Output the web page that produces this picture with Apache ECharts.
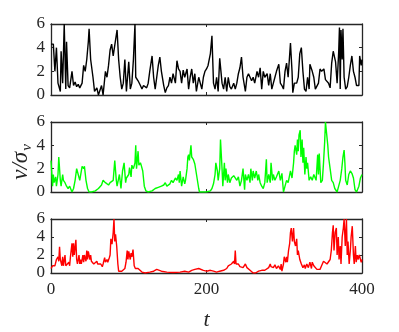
<!DOCTYPE html>
<html>
<head>
<meta charset="utf-8">
<script src="https://cdn.jsdelivr.net/npm/echarts@6/dist/echarts.min.js"></script>
<style>
  html, body { margin: 0; padding: 0; background: #fff; }
  #main { width: 399px; height: 332px; }
</style>
</head>
<body>
<div id="main"></div>
<script>
// [t, v/sigma_v]
var black = [[0,4.3],[3,4.3],[5,2.0],[7,4.0],[9,1.0],[12,0.3],[13,3.7],[15,1.0],[17,6.0],[19,0.5],[20,4.5],[22,0.8],[24,0.6],[27,2.0],[29,0.8],[31,1.1],[33,0.7],[35,0.9],[37,0.6],[40,1.0],[42,2.5],[44,2.0],[46,3.0],[48,4.5],[49,5.6],[51,3.0],[54,1.5],[56,0.3],[59,0.6],[61,0.0],[63,0.1],[65,0.8],[67,0.0],[70,2.0],[72,1.5],[74,2.5],[76,3.8],[78,4.3],[80,3.3],[82,4.2],[85,5.5],[87,3.0],[89,1.5],[91,0.5],[93,1.0],[95,3.0],[97,0.3],[100,2.8],[102,0.5],[104,1.0],[106,3.0],[108,6.0],[109,1.5],[112,1.2],[115,0.8],[117,0.5],[119,0.8],[123,0.6],[125,1.0],[127,2.0],[130,3.3],[132,1.5],[134,0.5],[136,1.5],[138,2.5],[140,3.2],[142,2.0],[145,0.8],[147,0.2],[149,0.6],[151,0.8],[153,1.5],[155,1.0],[157,1.8],[160,1.0],[162,2.9],[164,2.2],[166,2.0],[168,1.0],[170,2.1],[172,1.5],[175,2.2],[177,0.5],[179,1.5],[181,2.2],[183,1.0],[185,1.8],[187,0.3],[190,1.5],[192,1.5],[194,0.5],[196,1.5],[198,2.0],[200,2.2],[202,2.5],[205,3.5],[207,5.0],[208,3.0],[209,1.0],[211,0.5],[213,1.5],[215,0.3],[217,3.1],[220,1.0],[222,0.5],[224,1.5],[226,0.3],[228,1.5],[230,0.7],[232,0.5],[235,1.0],[237,0.5],[239,1.0],[241,1.8],[243,2.3],[245,3.2],[247,1.5],[250,0.3],[252,1.5],[254,1.8],[256,1.5],[258,1.2],[260,1.5],[262,1.0],[265,2.0],[267,1.5],[269,2.3],[271,0.5],[273,2.0],[275,1.5],[278,1.8],[280,0.8],[282,1.8],[284,0.5],[286,1.0],[288,1.5],[290,2.0],[293,2.6],[295,1.0],[297,0.8],[299,0.5],[301,2.0],[303,2.7],[305,1.5],[308,4.4],[310,2.0],[311,0.2],[313,1.0],[316,1.0],[318,1.5],[320,3.5],[322,4.0],[324,2.0],[326,0.5],[328,0.3],[330,1.5],[332,0.5],[333,2.6],[336,2.0],[338,1.5],[340,0.5],[342,0.5],[344,1.0],[346,2.2],[348,2.0],[351,2.2],[353,1.3],[355,1.2],[357,1.0],[359,0.6],[361,2.7],[363,3.7],[366,2.8],[368,1.0],[370,3.6],[371,5.7],[372,0.5],[373,5.5],[374.5,3.0],[375.5,5.6],[377,1.5],[379,0.5],[381,0.7],[383,1.5],[385,2.5],[387,3.3],[389,2.0],[391,1.5],[393,0.8],[396,0.8],[397,3.3],[399,2.5],[400,3.0]];

var green = [[0,2.7],[2,0.5],[3,1.5],[4,0.8],[6,1.3],[7,0.5],[9,1.5],[10,3.0],[12,1.0],[13,0.5],[15,1.5],[16,1.0],[18,0.8],[20,0.5],[22,0.3],[24,0.5],[27,0.0],[29,0.3],[31,1.0],[33,2.0],[35,1.5],[37,1.0],[40,2.2],[42,2.0],[43,2.2],[45,1.0],[47,0.3],[49,0.0],[52,0.0],[57,0.1],[61,0.3],[65,0.6],[67,1.0],[70,0.8],[72,0.8],[74,0.6],[76,0.8],[78,0.7],[80,1.0],[82,2.7],[84,1.0],[85,0.5],[88,1.5],[90,0.3],[92,1.8],[94,2.5],[96,0.8],[97,1.2],[100,1.5],[101,2.1],[103,1.3],[104,2.3],[106,2.0],[108,2.5],[109,4.0],[110,2.0],[112,3.5],[113,2.3],[115,2.5],[116,2.3],[118,1.8],[120,0.5],[122,0.1],[125,0.0],[130,0.1],[134,0.3],[138,0.4],[142,0.5],[145,0.6],[147,0.8],[149,0.5],[151,0.6],[153,0.7],[155,1.0],[157,0.8],[160,1.2],[162,1.0],[164,1.5],[165,0.8],[166,1.8],[168,0.5],[170,1.3],[172,0.7],[173,1.0],[175,2.0],[176,3.0],[177,3.2],[178,2.7],[180,4.0],[181,3.0],[183,2.8],[185,2.4],[187,2.3],[190,0.3],[191,0.0],[196,0.0],[200,0.0],[205,0.1],[207,0.3],[209,0.7],[211,1.5],[212,2.5],[214,1.8],[215,1.0],[217,2.0],[218,4.5],[220,2.0],[221,0.5],[223,2.5],[224,1.0],[225,2.0],[227,0.8],[228,1.5],[230,0.8],[232,1.2],[235,1.4],[237,1.3],[239,1.0],[241,1.3],[243,0.5],[245,1.0],[247,2.0],[249,0.2],[250,1.5],[252,1.0],[254,1.5],[256,0.8],[257,2.0],[259,1.0],[260,1.8],[262,1.2],[264,1.8],[266,1.0],[267,1.5],[269,0.8],[271,0.5],[273,0.3],[275,0.8],[277,2.8],[278,0.8],[280,1.5],[282,0.8],[283,2.5],[285,1.0],[286,1.5],[288,1.0],[290,1.3],[293,1.8],[295,1.0],[297,1.6],[299,0.0],[301,0.5],[303,1.0],[305,0.8],[308,1.8],[310,1.2],[312,2.5],[313,3.5],[314,4.0],[316,3.2],[317,4.5],[318,3.5],[319,4.9],[320.5,5.3],[321.5,3.0],[323,4.5],[324,2.5],[325,3.8],[326.5,1.5],[328,3.0],[329,2.0],[330,2.5],[332,1.0],[334,1.3],[336,1.0],[338,1.5],[341,1.0],[343,3.2],[344,1.5],[345,3.3],[347,0.8],[349,1.0],[350.5,2.5],[352,4.3],[353,6.0],[355,6.0],[356,4.0],[357,3.0],[359,2.0],[361,1.0],[363,0.8],[365,0.3],[368,0.0],[370,0.5],[372,1.0],[374,2.0],[375.5,3.0],[377,3.6],[378,2.5],[379,1.0],[381,0.6],[383,1.5],[385,1.8],[387,1.6],[389,1.2],[391,0.2],[393,0.0],[396,0.5],[398,1.2],[400,1.5]];

var red = [[0,0.5],[2,0.8],[3,0.6],[5,0.8],[7,1.5],[9,1.8],[10,1.3],[11,2.9],[12,1.5],[14,0.8],[15,1.8],[16,0.8],[18,2.0],[19,0.8],[20,1.0],[21,0.6],[23,1.2],[24,0.8],[25,1.8],[27,3.3],[28,1.8],[29,3.3],[30,2.0],[32,3.7],[33,1.5],[34,1.0],[36,2.0],[37,1.0],[38,1.5],[39,1.0],[41,2.0],[42,1.2],[43,2.0],[45,1.3],[46,2.5],[47,1.5],[48,2.4],[50,1.5],[51,2.0],[52,1.3],[54,1.5],[55,1.0],[57,1.0],[59,1.3],[60,1.0],[62,0.9],[64,1.0],[66,0.7],[67,1.0],[69,1.7],[70,1.2],[72,1.5],[73,1.2],[75,1.7],[76,2.0],[77,3.8],[78.5,3.2],[80,4.5],[81,6.0],[82,3.5],[83,4.3],[84.5,3.0],[86,1.0],[87,0.2],[89,0.3],[91,0.2],[93,0.3],[95,0.5],[96.5,1.2],[98,2.5],[99,1.5],[100,2.4],[102,1.5],[103,2.2],[104,1.8],[105.5,2.6],[107,0.8],[108.5,0.5],[110,0.6],[112,0.5],[114.5,0.3],[117,0.1],[121,0.0],[127,0.1],[132,0.2],[136,0.4],[138,0.3],[142,0.2],[149,0.1],[157,0.05],[166,0.1],[172,0.2],[177,0.1],[181,0.3],[185,0.4],[190,0.5],[192,0.4],[196,0.3],[200,0.2],[205,0.3],[209,0.2],[213,0.1],[217,0.2],[222,0.3],[226,0.5],[228,0.8],[230,0.7],[232,1.0],[235,1.3],[236,1.0],[237,2.5],[238,1.0],[240,0.8],[241,1.0],[243,0.7],[245,0.8],[247,0.6],[250,1.0],[252,0.6],[254,0.4],[256,0.3],[258,0.1],[260,0.0],[263,0.0],[265,0.1],[267,0.2],[269,0.4],[271,0.3],[273,0.2],[275,0.3],[277.5,0.5],[280,0.6],[282,1.0],[283,0.7],[284,0.9],[286,0.6],[288,0.9],[290,0.5],[292.5,0.8],[295,0.4],[296,1.0],[297,0.2],[299,1.0],[300,1.8],[302,1.2],[303,1.8],[304,1.2],[305.5,2.5],[307,3.3],[308,4.5],[309,5.0],[310.5,3.5],[312,5.0],[313,3.5],[314.5,3.0],[316,3.8],[317,2.0],[318,2.5],[320,1.5],[321,1.3],[322,1.0],[324,0.6],[326,0.9],[327,0.5],[329,1.0],[331,0.6],[333,1.2],[335,0.5],[336,1.2],[338,0.8],[340,0.6],[342,0.4],[344,0.2],[346,0.4],[348,0.8],[350.5,1.3],[353,1.2],[355,1.0],[357,1.1],[359,1.5],[360.5,2.5],[362,4.5],[363,5.3],[364,2.5],[365.5,4.5],[367,5.0],[368,2.0],[369.5,4.0],[370.5,1.5],[372,3.0],[373,1.0],[374.5,4.0],[376,5.0],[377,6.0],[378.5,3.0],[380,6.0],[381,2.0],[382,3.5],[383.5,1.0],[385,2.5],[386,4.0],[387.5,5.2],[389,2.0],[390,1.0],[391.5,3.0],[392.5,1.2],[394,2.0],[395,1.5],[396.5,2.0],[398,1.8],[399,1.2],[400,1.5]];

var tRange = [0, 400];
var tStep = 200;
var vRange = [0, 6];
var vStep = 2;
var lineColors = ['#000000', '#00ff00', '#ff0000'];

var axisCol = '#262626';
var serif = 'Liberation Serif';

var chartDom = document.getElementById('main');
var myChart = echarts.init(chartDom);

// panel boxes (px)
var grids = [
    { left: 51, top: 24, width: 311, height: 71 },
    { left: 51, top: 122, width: 311, height: 70 },
    { left: 51, top: 219, width: 311, height: 63 }
];

var xAxes = [], yAxes = [], series = [];
var seriesData = [black, green, red];

grids.forEach(function (g, i) {
    var last = i === grids.length - 1;
    // bottom + top x axes (top only for the box ticks)
    ['bottom', 'top'].forEach(function (pos) {
        xAxes.push({
            type: 'value', gridIndex: i, position: pos,
            min: tRange[0], max: tRange[1], interval: tStep,
            axisLine: { show: true, onZero: false, lineStyle: { color: axisCol, width: 1.3 } },
            axisTick: { show: true, inside: true, length: 3, lineStyle: { color: axisCol, width: 1 } },
            axisLabel: {
                show: last && pos === 'bottom',
                margin: 8, color: axisCol, fontFamily: serif, fontSize: 17
            },
            splitLine: { show: false },
            name: last && pos === 'bottom' ? 't' : '',
            nameLocation: 'middle', nameGap: 36,
            nameTextStyle: { color: axisCol, fontFamily: serif, fontStyle: 'italic', fontSize: 22 }
        });
    });
    ['left', 'right'].forEach(function (pos) {
        yAxes.push({
            type: 'value', gridIndex: i, position: pos,
            min: vRange[0], max: vRange[1], interval: vStep,
            axisLine: { show: true, onZero: false, lineStyle: { color: axisCol, width: 1.3 } },
            axisTick: { show: true, inside: true, length: 3, lineStyle: { color: axisCol, width: 1 } },
            axisLabel: {
                show: pos === 'left',
                margin: 6, color: axisCol, fontFamily: serif, fontSize: 17
            },
            splitLine: { show: false }
        });
    });
    series.push({
        type: 'line',
        xAxisIndex: i * 2, yAxisIndex: i * 2,
        data: seriesData[i],
        showSymbol: false, symbol: 'none',
        lineStyle: { color: lineColors[i], width: 1.4 },
        z: 1,
        animation: false
    });
});

var option = {
    animation: false,
    grid: grids,
    xAxis: xAxes,
    yAxis: yAxes,
    series: series,
    graphic: [{
        // y label  v/σ_v
        type: 'text',
        x: 20, y: 162,
        rotation: Math.PI / 2,
        style: {
            text: '{a|v/σ}{b|v}',
            align: 'center', verticalAlign: 'middle',
            rich: {
                a: { fontFamily: serif, fontStyle: 'italic', fontSize: 23, fill: axisCol, verticalAlign: 'bottom', lineHeight: 24 },
                b: { fontFamily: serif, fontStyle: 'italic', fontSize: 15, fill: axisCol, verticalAlign: 'bottom', lineHeight: 24, padding: [0, 0, -3, 1] }
            }
        }
    }]
};

myChart.setOption(option);
</script>
</body>
</html>
